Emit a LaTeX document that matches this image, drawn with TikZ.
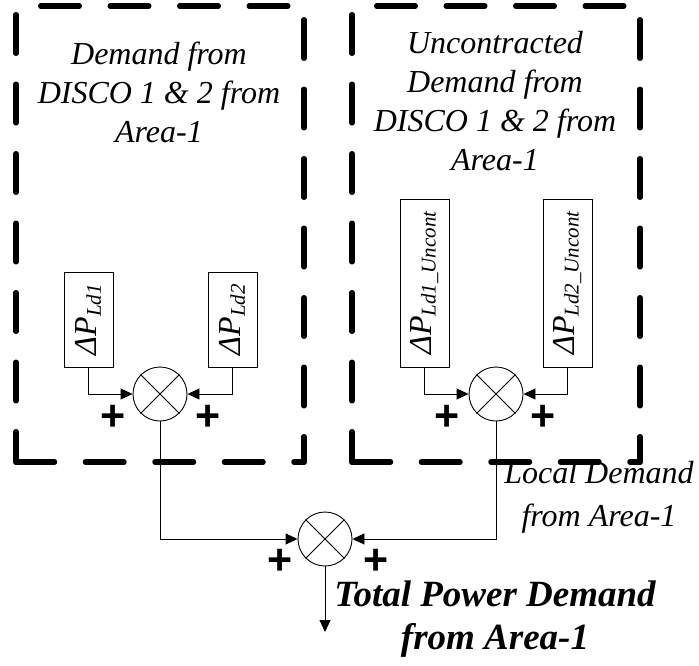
\documentclass[tikz,border=0pt]{standalone}
\usepackage{fontspec}
\setmainfont{Liberation Serif}
\newfontfamily\plusfont{Liberation Sans}
\usetikzlibrary{arrows.meta}
\newcommand{\dP}[1]{\fontsize{32}{36}\selectfont\itshape ΔP\raisebox{-4pt}{\fontsize{21}{21}\selectfont #1}}
\begin{document}
\begin{tikzpicture}[x=1pt,y=-1pt,
  dashbox/.style={line width=5.5pt,line cap=round,dash pattern=on 38.5pt off 31pt},
  blk/.style={draw,line width=0.9pt,rotate=90,inner sep=0pt,minimum height=49pt},
  sumnode/.style={draw,circle,line width=0.9pt,minimum size=54pt,inner sep=0pt},
  conn/.style={line width=0.9pt,-{Triangle[length=12pt,width=11pt]}},
  plus/.style={font=\plusfont\bfseries\fontsize{43}{43}\selectfont,inner sep=0pt},
  lbl/.style={font=\itshape\fontsize{32}{39}\selectfont,align=center,inner sep=0pt}]
\useasboundingbox (0,0) rectangle (699,665);
% dashed boxes
\foreach \xa/\xb in {16/304,352/640}{
  \draw[dashbox,dash phase=44.75pt] (\xa,6) -- (\xb,6);
  \draw[dashbox,dash phase=60.75pt] (\xa,6) -- (\xa,462);
  \draw[dashbox,dash phase=55.75pt] (\xb,6) -- (\xb,462);
  \draw[dashbox] (\xa,462) -- (\xb,462);
}
% titles
\node[lbl] (t1) at (159,92) {Demand from\\DISCO 1 \& 2 from\\Area-1};
\node[lbl] (t2) at (495,101) {Uncontracted\\Demand from\\DISCO 1 \& 2 from\\Area-1};
% blocks
\node[blk,minimum width=95pt] (b1) at (88.5,319.5) {\dP{Ld1}};
\node[blk,minimum width=95pt] (b2) at (232.5,319.5) {\dP{Ld2}};
\node[blk,minimum width=168pt] (b3) at (424.5,283) {\dP{Ld1\_Uncont}};
\node[blk,minimum width=168pt] (b4) at (567.5,283) {\dP{Ld2\_Uncont}};
% sums
\foreach \n/\x/\y in {s1/160/394,s2/496/394,s3/325/539}{
  \node[sumnode] (\n) at (\x,\y) {};
  \draw[line width=0.9pt] (\n.north west) -- (\n.south east) (\n.north east) -- (\n.south west);
}
% connectors
\draw[conn] (b1.west) |- (s1.west);
\draw[conn] (b2.west) |- (s1.east);
\draw[conn] (b3.west) |- (s2.west);
\draw[conn] (b4.west) |- (s2.east);
\draw[conn] (s1.south) |- (s3.west);
\draw[conn] (s2.south) |- (s3.east);
\coordinate (out) at (325,632);
\draw[conn] (s3.south) -- (out);
% plus signs
\node[plus] (p1) at (113,418) {+};
\node[plus] (p2) at (208,418) {+};
\node[plus] (p3) at (447,418) {+};
\node[plus] (p4) at (543,418) {+};
\node[plus] (p5) at (280,562) {+};
\node[plus] (p6) at (376,562) {+};
% labels
\node[lbl,font=\itshape\fontsize{32}{43}\selectfont] (loc) at (599,497.5) {Local Demand\\from Area-1};
\node[lbl,font=\bfseries\itshape\fontsize{37}{43}\selectfont] (tot) at (495,619) {Total Power Demand\\from Area-1};
\end{tikzpicture}
\end{document}
